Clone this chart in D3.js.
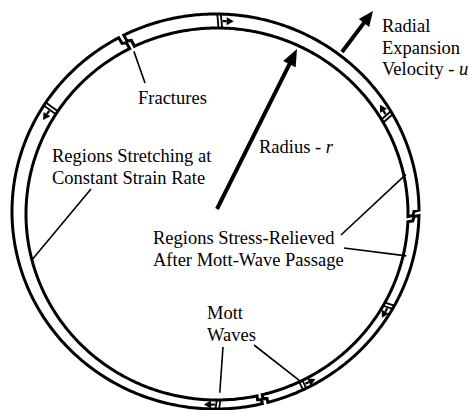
<!DOCTYPE html>
<html><head><meta charset="utf-8">
<script src="https://cdn.jsdelivr.net/npm/d3@7"></script>
<style>body{margin:0;background:#fff}svg{display:block}</style>
</head><body>
<script>
// ring fracture positions (degrees, parametric angle on the ring, 0 = right, clockwise on screen)
const fractureAngles = [-117, 1, 76.5];
// Mott wave positions and travel direction (+1 = increasing angle)
const waveAngles = [-89, -147, -30, 29, 64, 89.5];
const waveDirs   = [1, -1, -1, 1, -1, 1];
// labels
const labelLines = [
  {lines:[["Radial"],["Expansion"],["Velocity - ","u"]], x:382, y:32},
  {lines:[["Fractures"]], x:138, y:104},
  {lines:[["Regions Stretching at"],["Constant Strain Rate"]], x:52, y:162},
  {lines:[["Radius - ","r"]], x:259, y:153},
  {lines:[["Regions Stress-Relieved"],["After Mott-Wave Passage"]], x:153, y:244},
  {lines:[["Mott"],["Waves"]], x:207, y:319}
];
// leader lines: from label point to a ring location (angle, fraction across ring: 0 inner, 1 outer)
const leaders = [
  {from:[145,83], angle:-116.5, frac:-0.3},
  {from:[91,189], angle:165.5, frac:0.05},
  {from:[341,235], angle:-12, frac:0.2},
  {from:[344,248], angle:13, frac:0.3},
  {from:[223,347], angle:89.5, frac:-0.8},
  {from:[254,345], angle:64, frac:0.1}
];

const W = 470, H = 410;
const svg = d3.select("body").append("svg").attr("width", W).attr("height", H)
  .style("font-family", "Liberation Serif");
const FONT = "Liberation Serif";

const outerE = {cx:215.5, cy:211.5, rx:203.5, ry:197.5};
const innerE = {cx:217, cy:214, rx:191, ry:186};
const rad = d3.scaleLinear().domain([0, 360]).range([0, 2*Math.PI]);
function ept(E, tdeg){ const t = rad(tdeg); return [E.cx + E.rx*Math.cos(t), E.cy + E.ry*Math.sin(t)]; }
function rpt(tdeg, f){ const a = ept(innerE, tdeg), b = ept(outerE, tdeg); return [a[0]+(b[0]-a[0])*f, a[1]+(b[1]-a[1])*f]; }
function tangent(tdeg){ const t = rad(tdeg); const E = {rx:(outerE.rx+innerE.rx)/2, ry:(outerE.ry+innerE.ry)/2};
  const dx = -E.rx*Math.sin(t), dy = E.ry*Math.cos(t), L = Math.hypot(dx,dy); return [dx/L, dy/L]; }

// crack profile: angular offset at fraction f
const gapW = 0.8;
const profile = [[1,-0.6],[0.55,-0.6],[0.45,0.6],[0,0.6]];
const line = d3.line();

const fr = fractureAngles.slice().sort((a,b)=>a-b);
const segs = fr.map((a,i)=> [a, i < fr.length-1 ? fr[i+1] : fr[0]+360]);
const ringG = svg.append("g");
segs.forEach(([a,b])=>{
  const pts = [];
  const startCap = profile.slice().reverse().map(([f,o])=> rpt(a+o+gapW, f));
  const oStart = a + profile[0][1] + gapW, oEnd = b + profile[0][1] - gapW;
  const iStart = a + profile[3][1] + gapW, iEnd = b + profile[3][1] - gapW;
  startCap.forEach(p=>pts.push(p));
  d3.range(0, 1.0001, 1/200).forEach(k=> pts.push(ept(outerE, oStart + (oEnd-oStart)*k)));
  profile.forEach(([f,o])=> pts.push(rpt(b+o-gapW, f)));
  d3.range(0, 1.0001, 1/200).forEach(k=> pts.push(ept(innerE, iEnd + (iStart-iEnd)*k)));
  ringG.append("path").attr("d", line(pts)+"Z").attr("fill","#fff").attr("stroke","#000")
    .attr("stroke-width",3).attr("stroke-linejoin","miter").attr("stroke-miterlimit",3);
});

// Mott waves
const waveG = svg.append("g");
waveAngles.forEach((t,i)=>{
  const d = waveDirs[i], tg = tangent(t);
  [-1.8, 1.8].forEach(off=>{
    const a = rpt(t, 0.0), b = rpt(t, 1.0);
    waveG.append("line").attr("x1",a[0]+tg[0]*off).attr("y1",a[1]+tg[1]*off)
      .attr("x2",b[0]+tg[0]*off).attr("y2",b[1]+tg[1]*off).attr("stroke","#000").attr("stroke-width",1.8);
  });
  const m = rpt(t, 0.5), dx = tg[0]*d, dy = tg[1]*d, nx = -dy, ny = dx;
  const s0 = [m[0]+dx*3, m[1]+dy*3], s1 = [m[0]+dx*7, m[1]+dy*7];
  waveG.append("line").attr("x1",s0[0]).attr("y1",s0[1]).attr("x2",s1[0]).attr("y2",s1[1]).attr("stroke","#000").attr("stroke-width",2.2);
  const tip = [m[0]+dx*14, m[1]+dy*14];
  waveG.append("path").attr("d", line([tip, [s1[0]+nx*4, s1[1]+ny*4], [s1[0]-nx*4, s1[1]-ny*4]])+"Z").attr("fill","#000");
});

// leader lines
leaders.forEach(l=>{
  const e = rpt(l.angle, l.frac);
  svg.append("line").attr("x1",l.from[0]).attr("y1",l.from[1]).attr("x2",e[0]).attr("y2",e[1]).attr("stroke","#000").attr("stroke-width",1.6);
});

// thick arrows
function bigArrow(from, to, hl, hw){
  const dx = to[0]-from[0], dy = to[1]-from[1], L = Math.hypot(dx,dy), ux = dx/L, uy = dy/L;
  const base = [to[0]-ux*hl, to[1]-uy*hl];
  svg.append("line").attr("x1",from[0]).attr("y1",from[1]).attr("x2",base[0]+ux).attr("y2",base[1]+uy).attr("stroke","#000").attr("stroke-width",4);
  svg.append("path").attr("d", line([to, [base[0]-uy*hw, base[1]+ux*hw], [base[0]+uy*hw, base[1]-ux*hw]])+"Z").attr("fill","#000");
}
bigArrow([217,209],[297,49],17,7);
bigArrow([342,52],[373,11],15,6.5);

// labels: one text element per line
labelLines.forEach(L=>{
  L.lines.forEach((ln,j)=>{
    const t = svg.append("text").attr("x",L.x).attr("y",L.y + j*21.7)
      .attr("font-family", FONT).attr("font-size", 18.5).attr("fill", "#000");
    ln.forEach((part,k)=>{
      const ts = t.append("tspan").attr("font-family", FONT).text(part);
      if(k===1) ts.attr("font-style","italic");
    });
  });
});
</script>
</body></html>
